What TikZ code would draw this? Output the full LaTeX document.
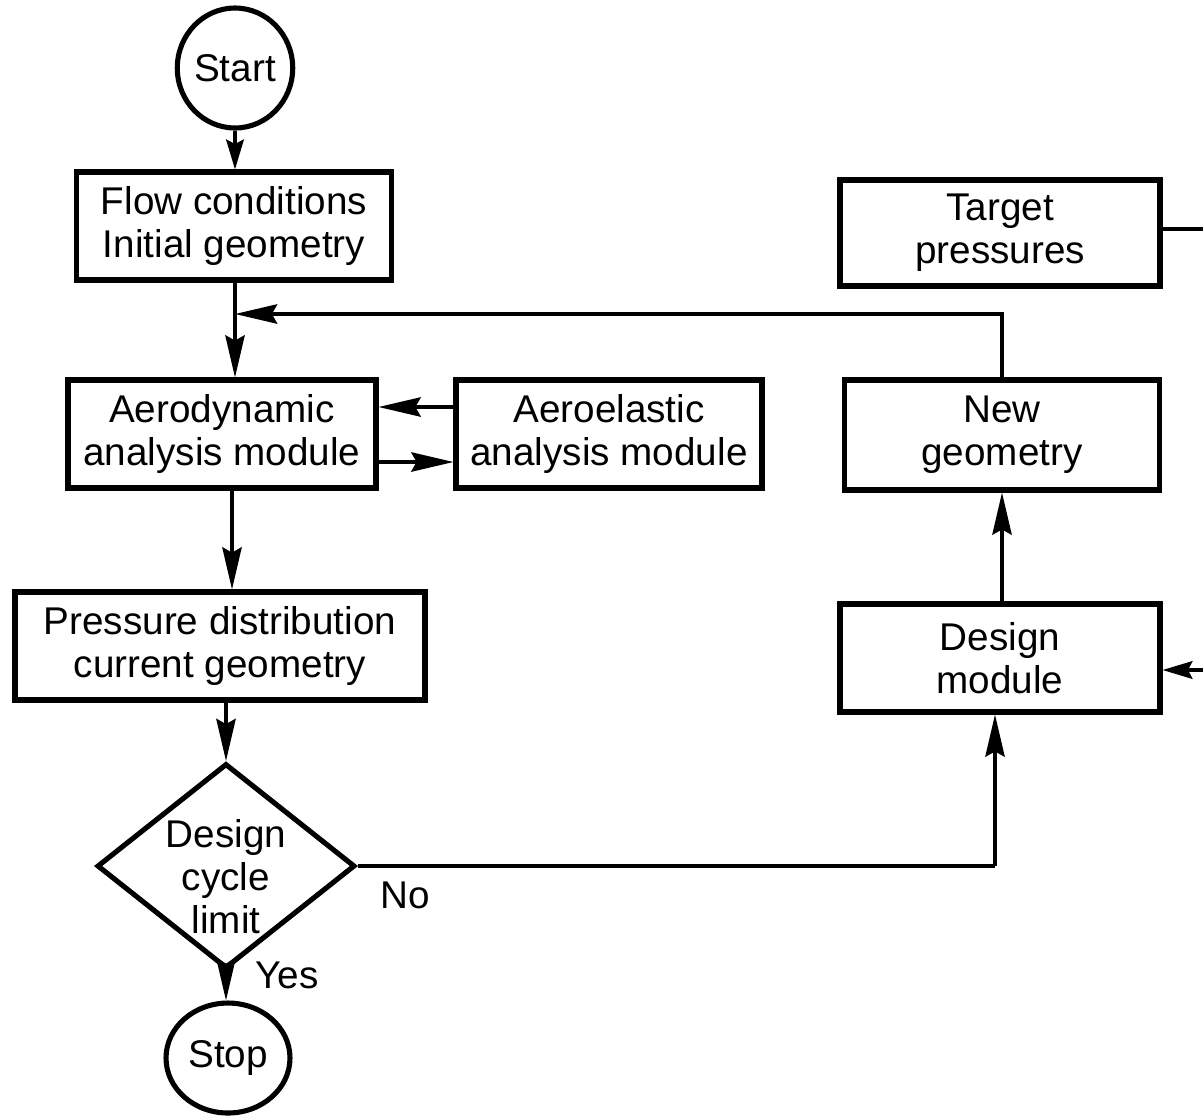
\documentclass[tikz,border=0pt]{standalone}
\usepackage{fontspec}
\setmainfont{Liberation Sans}
\usetikzlibrary{shapes.geometric,arrows.meta}
\tikzset{
  px/.style={x=0.02cm,y=-0.02cm},
  txt/.style={font=\fontsize{22}{24.5}\selectfont},
  box/.style={draw,line width=2.9pt,rectangle,inner sep=0pt,align=center,txt},
  term/.style={draw,line width=2.9pt,ellipse,inner sep=0pt,txt},
  decision/.style={draw,line width=2.9pt,diamond,inner sep=0pt},
  conn/.style={line width=2pt},
  arr/.style={line width=2pt,-{Stealth[length=24pt,width=11pt,inset=3pt]}},
  shortarr/.style={line width=2pt,-{Stealth[length=17pt,width=10pt,inset=2.5pt]}},
  lbl/.style={txt,inner sep=0pt}
}
\begin{document}
\begin{tikzpicture}[px]
\useasboundingbox (0,0) rectangle (1203,1117);
\node[term,minimum width=2.2cm,minimum height=2.4cm] (start) at (235,68) {Start};
\node[box,minimum width=6.3cm,minimum height=2.16cm] (flow) at (234,226) {Flow conditions\\Initial geometry};
\node[box,minimum width=6.4cm,minimum height=2.12cm] (target) at (1000,233) {Target\\pressures};
\node[box,minimum width=6.16cm,minimum height=2.16cm] (aero) at (222,434) {Aerodynamic\\analysis module};
\node[box,minimum width=6.12cm,minimum height=2.16cm] (elastic) at (609,434) {Aeroelastic\\analysis module};
\node[box,minimum width=6.3cm,minimum height=2.2cm] (newgeo) at (1002,435) {New\\geometry};
\node[box,minimum width=6.4cm,minimum height=2.16cm] (design) at (1000,658) {Design\\module};
\node[box,minimum width=8.2cm,minimum height=2.16cm] (press) at (220,646) {Pressure distribution\\current geometry};
\node[decision,minimum width=5.16cm,minimum height=4.1cm] (dec) at (226,866) {};
\node[lbl,align=center] (dectext) at (226,877) {Design\\cycle\\limit};
\node[term,minimum width=2.48cm,minimum height=2.2cm] (stop) at (228,1058) {Stop};
\node[lbl] (no) at (405,895) {No};
\node[lbl] (yes) at (287,975) {Yes};
\coordinate (j) at (235,314);
\coordinate (tr) at (1203,229);
\coordinate (dr) at (1203,670);
\coordinate (dc) at (995,866);
% connectors
\draw[shortarr] (start.south) -- (start.south |- flow.north);
\draw[arr] (flow.south -| j) -- (j |- aero.north);
\draw[arr] (newgeo.north) |- (j);
\draw[arr] (elastic.west |- 0,407) -- (aero.east |- 0,407);
\draw[arr] (aero.east |- 0,462) -- (elastic.west |- 0,462);
\draw[arr] (aero.south -| 232,0) -- (press.north -| 232,0);
\draw[arr] (press.south -| dec.north) -- (dec.north);
\draw[arr] (dec.south) -- (dec.south |- stop.north);
\draw[conn] (dec.east) -- (dc);
\draw[arr] (dc) -- (dc |- design.south);
\draw[arr] (design.north -| newgeo.north) -- (newgeo.south);
\draw[conn] (target.east |- tr) -- (tr);
\draw[shortarr] (dr) -- (design.east |- dr);
\end{tikzpicture}
\end{document}
